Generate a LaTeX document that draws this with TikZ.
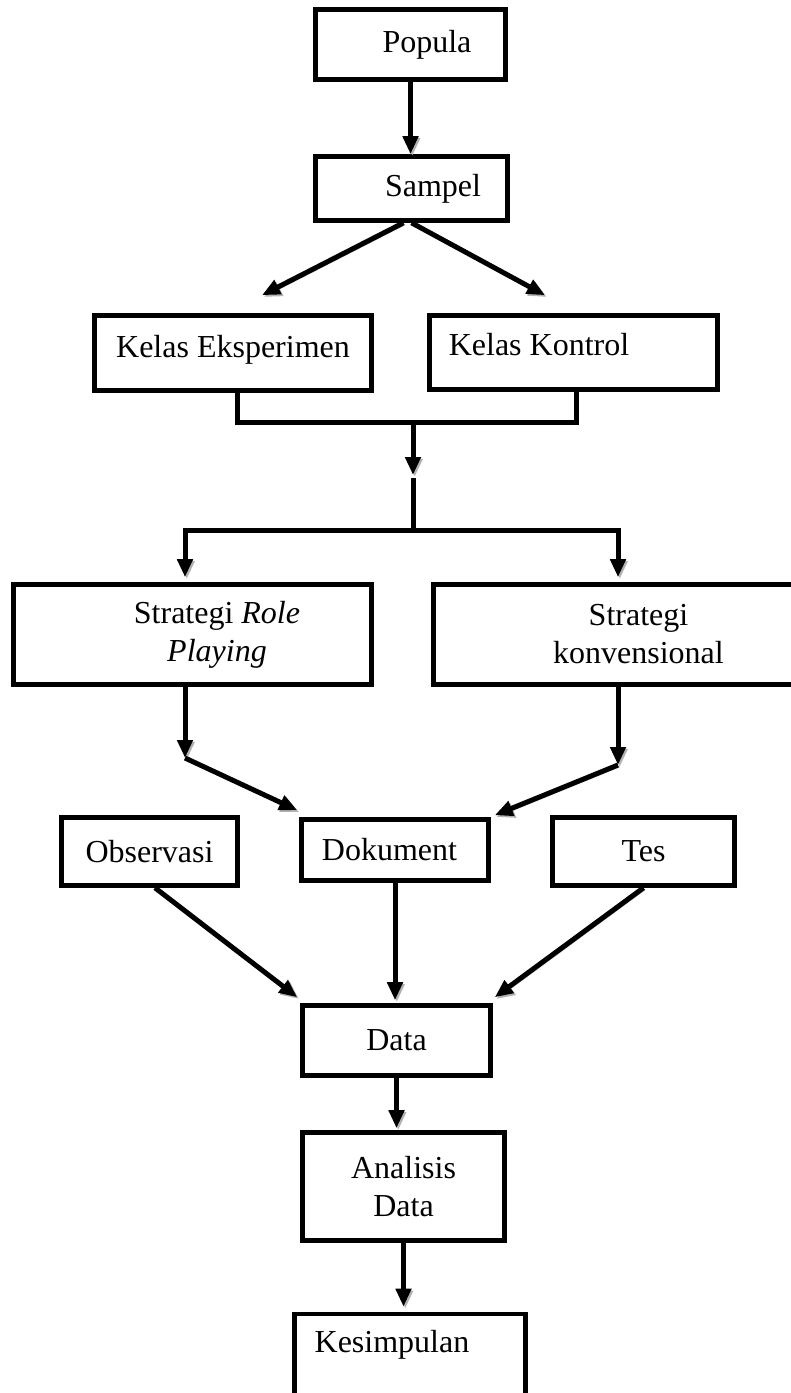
\documentclass[tikz,border=0pt]{standalone}
\usepackage{fontspec}
\setmainfont{Liberation Serif}
\usetikzlibrary{arrows.meta,calc}
\tikzset{
  box/.style={rectangle, draw=black, line width=2.3pt, inner sep=2pt, align=center, font=\fontsize{16}{19}\selectfont},
  shd/.style={preaction={draw=black!30, transform canvas={shift={(0.9pt,-0.9pt)}}}},
  ln/.style={line width=2.5pt, draw=black, shd},
  arr/.style={ln, -{Triangle[length=9pt,width=7.5pt]}},
}
\begin{document}
\begin{tikzpicture}[x=0.5pt,y=-0.5pt]
  \useasboundingbox (0,0) rectangle (791,1393);
  % boxes
  \node[box,minimum width=95pt,minimum height=35pt] (popula) at (410.5,44.5) {\hspace*{16.5pt}Popula};
  \node[box,minimum width=96pt,minimum height=32pt] (sampel) at (411.5,188.5) {\hspace*{21.5pt}Sampel};
  \node[box,minimum width=138.5pt,minimum height=37.5pt,text height=11pt,text depth=6.4pt] (eksp) at (233,353) {Kelas Eksperimen};
  \node[box,minimum width=144pt,minimum height=37pt,text height=11pt,text depth=7.9pt] (kontrol) at (573.5,352.5) {Kelas Kontrol\hspace*{34.5pt}};
  \node[box,minimum width=179pt,minimum height=50pt] (srp) at (192.5,634.5) {\hspace*{24.5pt}Strategi \textit{Role}\\\hspace*{24.5pt}\textit{Playing}};
  \node[box,minimum width=182pt,minimum height=50pt] (skonv) at (615.5,634.5) {\hspace*{23pt}Strategi\\\hspace*{23pt}konvensional};
  \node[box,minimum width=88pt,minimum height=34pt] (obs) at (149.5,851.5) {Observasi};
  \node[box,minimum width=93.5pt,minimum height=30.5pt] (dok) at (395,850) {Dokument\hspace*{5.5pt}};
  \node[box,minimum width=91pt,minimum height=34pt] (tes) at (643.5,851.5) {Tes};
  \node[box,minimum width=94pt,minimum height=35pt] (data) at (396.5,1040.5) {Data};
  \node[box,minimum width=101pt,minimum height=54pt] (analisis) at (403.5,1186.5) {Analisis\\Data};
  \node[box,minimum width=115.5pt,minimum height=52pt,text height=11pt,text depth=24.4pt] (kesimpulan) at (410,1366) {Kesimpulan\hspace*{18pt}};
  % arrows
  \draw[arr] (popula.south) -- (popula.south |- sampel.north);
  \draw[arr] ([xshift=-4pt]sampel.south) -- ([xshift=14.5pt,yshift=9pt]eksp.north);
  \draw[arr] (sampel.south) -- ([xshift=-14.25pt,yshift=9pt]kontrol.north);
  \draw[ln] ([xshift=2pt]eksp.south) -- ++(0,30) -| ([xshift=1.25pt]kontrol.south);
  \coordinate (j1) at (413,423);
  \coordinate (j2) at (413,530);
  \draw[arr] (j1) -- ++(0,52);
  \draw[ln] (j2) -- ++(0,-52);
  \draw[arr] (j2) -| ([xshift=-3.75pt,yshift=2.5pt]srp.north);
  \draw[arr] (j2) -| ([xshift=1.25pt,yshift=2.5pt]skonv.north);
  \coordinate (kl) at (185,758);
  \coordinate (kr) at (618,765);
  \draw[arr] (srp.south -| kl) -- (kl);
  \draw[arr] (kl) -- ([xshift=-1pt,yshift=3.5pt]dok.north west);
  \draw[arr] (skonv.south -| kr) -- (kr);
  \draw[arr] (kr) -- ([xshift=2pt,yshift=1pt]dok.north east);
  \draw[arr] ([xshift=2.75pt]obs.south) -- ([xshift=-1.5pt,yshift=3pt]data.north west);
  \draw[arr] (dok.south) -- ($(dok.south |- data.north)+(0,-3)$);
  \draw[arr] (tes.south) -- ([xshift=1pt,yshift=3pt]data.north east);
  \draw[arr] (data.south) -- ($(data.south |- analisis.north)+(0,-2)$);
  \draw[arr] (analisis.south) -- ($(analisis.south |- kesimpulan.north)+(0,-5)$);
\end{tikzpicture}
\end{document}
